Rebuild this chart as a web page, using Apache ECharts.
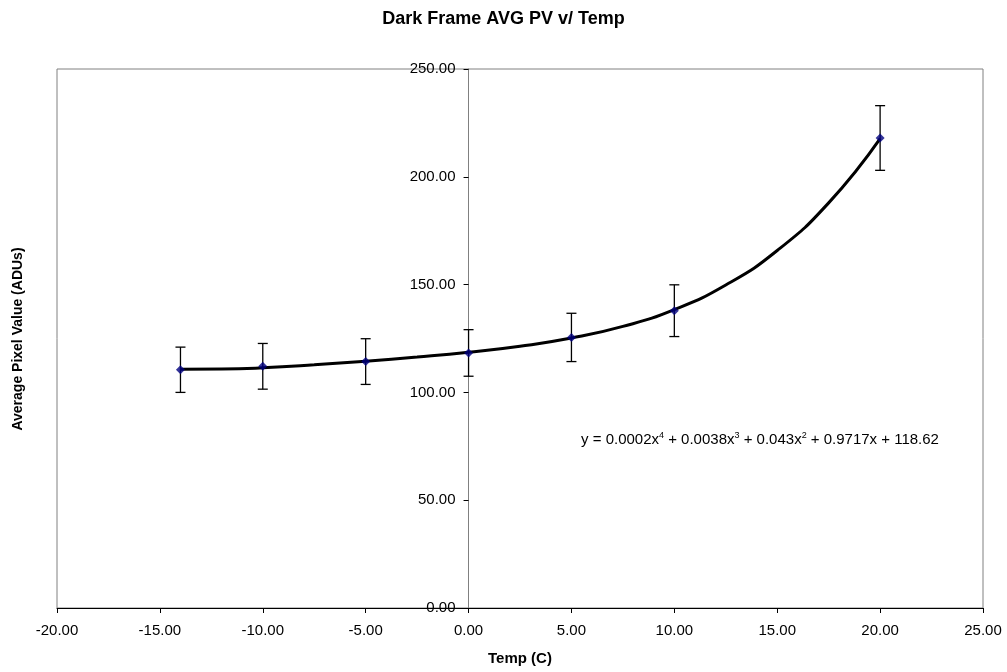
<!DOCTYPE html>
<html>
<head>
<meta charset="utf-8">
<script src="https://cdn.jsdelivr.net/npm/echarts@6/dist/echarts.min.js"></script>
<style>
  html, body { margin: 0; padding: 0; background: #fff; }
  #main { width: 1007px; height: 672px; }
</style>
</head>
<body>
<div id="main"></div>
<script>
// measured points
const temps = [-14, -10, -5, 0, 5, 10, 20]
const avgPv = [110.5, 112.1, 114.3, 118.3, 125.5, 137.9, 218.0]
const errs = [10.5, 10.6, 10.6, 10.8, 11.2, 12.0, 15.0]
// trend curve as it is drawn on the chart
const trendX = [-14, -12, -10, -7.5, -5, -2.5, 0, 2.5, 5, 7.5, 10, 12.5, 15, 17.5, 20]
const trendY = [110.7, 110.8, 111.4, 112.8, 114.5, 116.4, 118.6, 121.4, 125.2, 130.6, 138.4, 149.8, 165.8, 187.9, 217.7]
const xTicks = [-20, 25, 5]
const yTicks = [0, 250, 50]

const font = "'Liberation Sans', Arial, sans-serif"
const pts = temps.map((t, i) => [t, avgPv[i]])
const bars = temps.map((t, i) => [t, avgPv[i] - errs[i], avgPv[i] + errs[i]])
const trend = trendX.map((t, i) => [t, trendY[i]])

// grid box, the y axis sits on x = 0
const gLeft = 57, gRight = 24
const gWidth = 1007 - gLeft - gRight
const yOffset = -gWidth * (0 - xTicks[0]) / (xTicks[1] - xTicks[0])

const myChart = echarts.init(document.getElementById('main'), null, {renderer: 'canvas'})
const option = {
  animation: false,
  backgroundColor: '#fff',
  title: {
    text: 'Dark Frame AVG PV v/ Temp',
    left: 'center',
    top: 5,
    textStyle: {fontFamily: font, fontSize: 18, fontWeight: 'bold', color: '#000'}
  },
  grid: {
    left: gLeft, right: gRight, top: 69, bottom: 64,
    show: true, borderColor: '#808080', borderWidth: 1
  },
  xAxis: {
    type: 'value',
    min: xTicks[0], max: xTicks[1], interval: xTicks[2],
    splitLine: {show: false},
    axisLine: {lineStyle: {color: '#000', width: 1}},
    axisTick: {inside: false, length: 5, lineStyle: {color: '#000'}},
    axisLabel: {
      color: '#000', fontFamily: font, fontSize: 15, margin: 15,
      formatter: v => v.toFixed(2)
    }
  },
  yAxis: {
    type: 'value',
    min: yTicks[0], max: yTicks[1], interval: yTicks[2],
    offset: yOffset,
    splitLine: {show: false},
    axisLine: {onZero: false, lineStyle: {color: '#808080', width: 1}},
    axisTick: {inside: false, length: 5, lineStyle: {color: '#000'}},
    axisLabel: {
      color: '#000', fontFamily: font, fontSize: 15, margin: 13,
      formatter: v => v.toFixed(2)
    }
  },
  graphic: [
    {
      type: 'text', x: 520, y: 659,
      style: {
        text: 'Temp (C)', fontFamily: font, fontSize: 15, fontWeight: 'bold', fill: '#000',
        align: 'center', verticalAlign: 'middle'
      }
    },
    {
      type: 'text', x: 18, y: 339, rotation: Math.PI / 2,
      style: {
        text: 'Average Pixel Value (ADUs)', fontFamily: font, fontSize: 14,
        fontWeight: 'bold', fill: '#000', align: 'center', verticalAlign: 'middle'
      }
    },
    {
      type: 'text', x: 760, y: 440,
      style: {
        text: 'y = 0.0002x{s|4} + 0.0038x{s|3} + 0.043x{s|2} + 0.9717x + 118.62',
        fontFamily: font, fontSize: 15, fill: '#000', align: 'center', verticalAlign: 'middle',
        rich: {s: {fontSize: 9, fontFamily: font, verticalAlign: 'top', padding: [0, 0, 8, 0]}}
      }
    }
  ],
  series: [
    {
      name: 'trend',
      type: 'line',
      data: trend,
      smooth: true,
      showSymbol: false,
      lineStyle: {color: '#000', width: 3},
      z: 2
    },
    {
      name: 'error',
      type: 'custom',
      data: bars,
      z: 3,
      renderItem: (params, api) => {
        const lo = api.coord([api.value(0), api.value(1)])
        const hi = api.coord([api.value(0), api.value(2)])
        const w = 5
        const st = {stroke: '#000', lineWidth: 1.3}
        return {
          type: 'group',
          children: [
            {type: 'line', shape: {x1: lo[0], y1: lo[1], x2: hi[0], y2: hi[1]}, style: st},
            {type: 'line', shape: {x1: lo[0] - w, y1: lo[1], x2: lo[0] + w, y2: lo[1]}, style: st},
            {type: 'line', shape: {x1: hi[0] - w, y1: hi[1], x2: hi[0] + w, y2: hi[1]}, style: st}
          ]
        }
      }
    },
    {
      name: 'AVG PV',
      type: 'scatter',
      data: pts,
      symbol: 'diamond',
      symbolSize: 9,
      itemStyle: {color: '#000080'},
      z: 4
    }
  ]
}
option && myChart.setOption(option)
</script>
</body>
</html>
